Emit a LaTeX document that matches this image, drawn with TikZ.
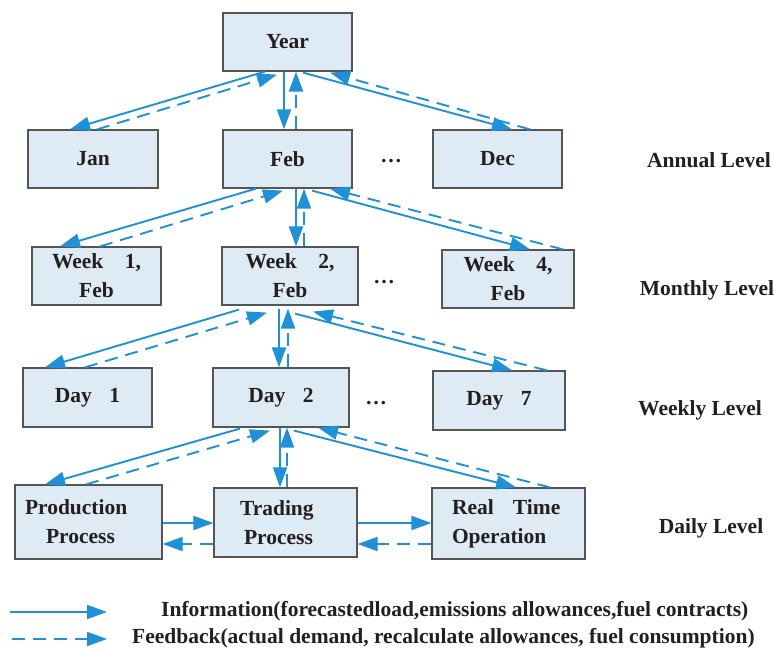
\documentclass[tikz,border=0pt]{standalone}
\usepackage{fontspec}
\setmainfont{Liberation Serif}
\usetikzlibrary{arrows.meta,calc}
\definecolor{lineblue}{RGB}{32,145,214}
\definecolor{boxfill}{RGB}{222,235,245}
\definecolor{boxedge}{RGB}{85,85,85}
\definecolor{ink}{RGB}{35,31,32}
\begin{document}
\begin{tikzpicture}[x=1pt,y=-1pt,
  every node/.style={font=\fontsize{21.5}{29}\selectfont\bfseries, text=ink},
  box/.style={draw=boxedge, line width=1.2pt, fill=boxfill, inner sep=0pt, align=center},
  infoarrow/.style={draw=lineblue, line width=1.9pt, -{Triangle[length=20pt,width=14pt]}},
  fbarrow/.style={infoarrow, dash pattern=on 13pt off 8pt},
  lvl/.style={inner sep=0pt},
]
\useasboundingbox (0,0) rectangle (774,648);

% boxes
\node[box, minimum width=129pt, minimum height=58pt] (year) at (287.5,42) {Year};
\node[box, minimum width=130pt, minimum height=58pt] (jan) at (93,159) {Jan};
\node[box, minimum width=129pt, minimum height=58pt] (feb) at (287.5,159) {Feb};
\node[box, minimum width=129pt, minimum height=58pt] (dec) at (497.5,159) {Dec};

\node[box, minimum width=129pt, minimum height=58pt] (w1) at (96.5,276) {Week\hspace{16pt} 1,\\Feb};
\node[box, minimum width=136pt, minimum height=58pt] (w2) at (290,276) {Week\hspace{16pt} 2,\\Feb};
\node[box, minimum width=132pt, minimum height=58pt] (w4) at (508,279) {Week\hspace{16pt} 4,\\Feb};

\node[box, minimum width=129pt, minimum height=59pt] (d1) at (87.5,397.5) {Day\hspace{12pt} 1};
\node[box, minimum width=136pt, minimum height=59pt] (d2) at (281,397.5) {Day\hspace{12pt} 2};
\node[box, minimum width=132pt, minimum height=59pt] (d7) at (499,400.5) {Day\hspace{12pt} 7};

\node[box, minimum width=147pt, minimum height=74pt, text width=127pt, align=left, inner xsep=10pt] (prod) at (88.5,522) {Production\\\hspace*{21pt}Process};
\node[box, minimum width=143pt, minimum height=69pt, text width=91pt, align=left, inner xsep=26pt] (trad) at (285.5,522.5) {Trading\\\hspace*{4pt}Process};
\node[box, minimum width=153pt, minimum height=71pt, text width=113pt, align=left, inner xsep=20pt] (rt) at (508.5,523.5) {Real\hspace{12pt} Time\\Operation};

% dots
\node[lvl] (dots1) at (391,161) {\ldots};
\node[lvl] (dots2) at (384,282) {\ldots};
\node[lvl] (dots3) at (376,403) {\ldots};

% level labels
\node[lvl] (annual) at (709,160) {Annual Level};
\node[lvl] (monthly) at (707,290) {Monthly Level};
\node[lvl] (weekly) at (700,410) {Weekly Level};
\node[lvl] (daily) at (711,528) {Daily Level};

% Year level
\draw[infoarrow] ($(year.south)+(-22.5,0)$) -- ($(jan.north)+(-23,0)$);
\draw[fbarrow] ($(jan.north)+(4,0)$) -- ($(year.south)+(-10.5,3)$);
\draw[infoarrow] ($(year.south)+(-3.5,0)$) -- ($(feb.north)+(-3.5,0)$);
\draw[fbarrow] ($(feb.north)+(8.5,0)$) -- ($(year.south)+(8.5,0)$);
\draw[infoarrow] ($(year.south)+(15.5,1)$) -- ($(dec.north)+(14.5,0)$);
\draw[fbarrow] ($(dec.north)+(32.5,0)$) -- ($(year.south)+(42.5,1)$);

% Feb level
\draw[infoarrow] ($(feb.south)+(-31.5,0)$) -- ($(w1.north)+(-36.5,0)$);
\draw[fbarrow] ($(w1.north)+(3.5,0)$) -- ($(feb.south)+(-4.5,2)$);
\draw[infoarrow] ($(feb.south)+(8.5,0)$) -- ($(w2.north)+(6,0)$);
\draw[fbarrow] ($(w2.north)+(14,0)$) -- ($(feb.south)+(16.5,0)$);
\draw[infoarrow] ($(feb.south)+(24.5,2)$) -- ($(w4.north)+(22,0)$);
\draw[fbarrow] ($(w4.north)+(55,0)$) -- ($(feb.south)+(42.5,0)$);

% Week level
\draw[infoarrow] ($(w2.south)+(-51,4)$) -- ($(d1.north)+(-42.5,0)$);
\draw[fbarrow] ($(d1.north)+(-2.5,0)$) -- ($(w2.south)+(-23,7)$);
\draw[infoarrow] ($(w2.south)+(-11,3)$) -- ($(d2.north)+(-2,0)$);
\draw[fbarrow] ($(d2.north)+(7,0)$) -- ($(w2.south)+(-2,3)$);
\draw[infoarrow] ($(w2.south)+(5,8)$) -- ($(d7.north)+(13,0)$);
\draw[fbarrow] ($(d7.north)+(48,0)$) -- ($(w2.south)+(23,6)$);

% Day level
\draw[infoarrow] ($(d2.south)+(-41,1)$) -- ($(prod.north)+(-43.5,0)$);
\draw[fbarrow] ($(prod.north)+(-2.5,0)$) -- ($(d2.south)+(-11,3)$);
\draw[infoarrow] ($(d2.south)+(-1,0)$) -- ($(trad.north)+(-5.5,0)$);
\draw[fbarrow] ($(trad.north)+(1.5,0)$) -- ($(d2.south)+(6,0)$);
\draw[infoarrow] ($(d2.south)+(13,3)$) -- ($(rt.north)+(7.5,0)$);
\draw[fbarrow] ($(rt.north)+(41.5,0)$) -- ($(d2.south)+(37,0)$);

% horizontal
\draw[infoarrow] ($(prod.east)+(0,1)$) -- ($(trad.west)+(0,0.5)$);
\draw[fbarrow] ($(trad.west)+(0,21.5)$) -- ($(prod.east)+(0,22)$);
\draw[infoarrow] ($(trad.east)+(0,0.5)$) -- ($(rt.west)+(0,-0.5)$);
\draw[fbarrow] ($(rt.west)+(0,20.5)$) -- ($(trad.east)+(0,21.5)$);

% legend
\coordinate (la1) at (10,612);
\coordinate (lb1) at (107,612);
\coordinate (la2) at (12,639);
\coordinate (lb2) at (107,639);
\draw[infoarrow] (la1) -- (lb1);
\draw[fbarrow] (la2) -- (lb2);
\node[lvl, anchor=west] (infotext) at (161,611) {Information(forecastedload,emissions allowances,fuel contracts)};
\node[lvl, anchor=west] (fbtext) at (132,638) {Feedback(actual demand, recalculate allowances, fuel consumption)};
\end{tikzpicture}
\end{document}
